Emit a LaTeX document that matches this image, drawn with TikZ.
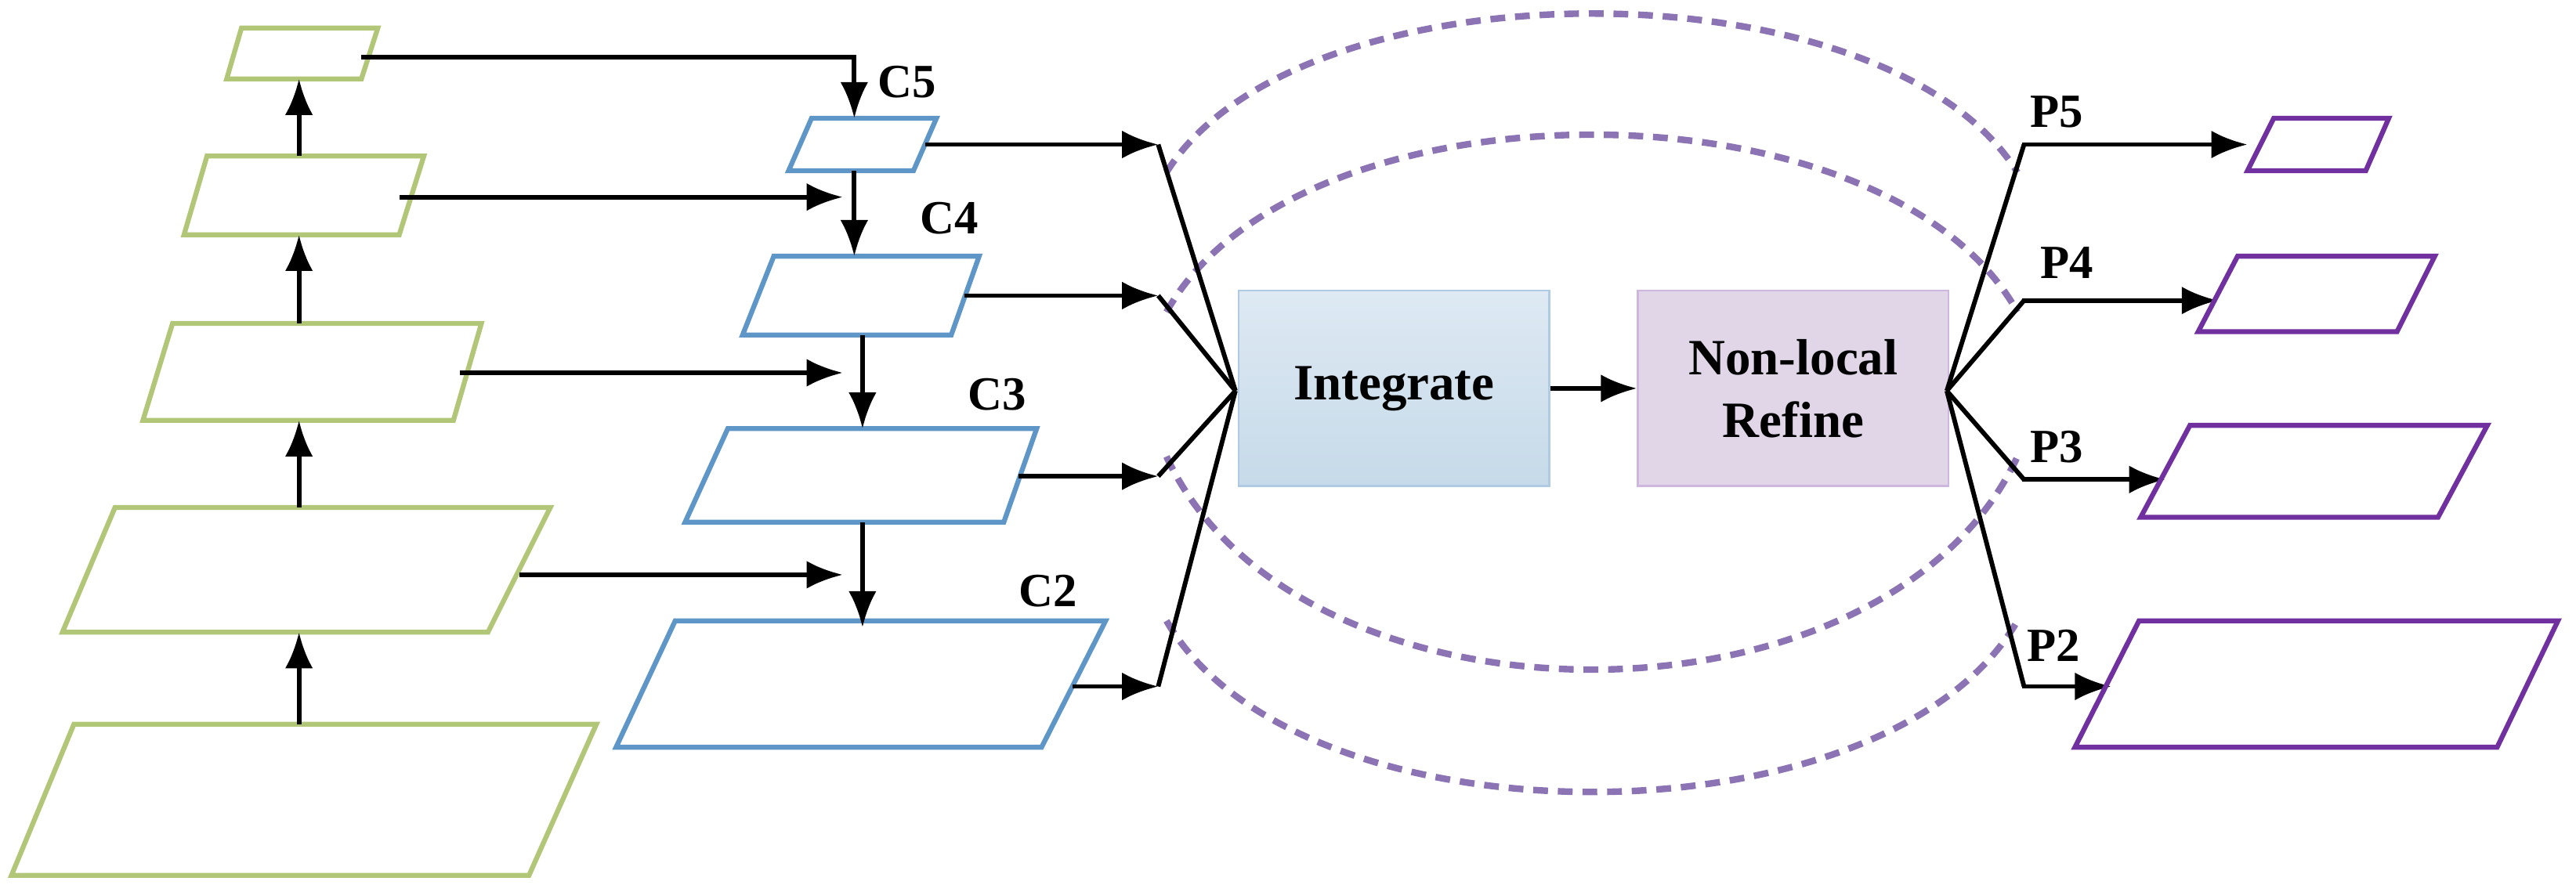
\documentclass[tikz,border=0pt]{standalone}
\usepackage{fontspec}
\setmainfont{Liberation Serif}
\usetikzlibrary{arrows.meta}
\definecolor{gr}{RGB}{178,198,120}
\definecolor{bl}{RGB}{95,150,200}
\definecolor{pu}{RGB}{112,48,160}
\definecolor{da}{RGB}{140,115,180}
\begin{document}
\begin{tikzpicture}[x=1pt,y=-1pt,
 ar/.style={line width=2.8pt,-{Latex[length=22pt,width=17pt]}},
 ln/.style={line width=2.8pt},
 gs/.style={draw=gr,line width=3pt},
 bs/.style={draw=bl,line width=3pt},
 ps/.style={draw=pu,line width=3pt},
 dsh/.style={draw=da,line width=4pt,dash pattern=on 9pt off 6pt},
 lab/.style={font=\bfseries\fontsize{29}{31}\selectfont,inner sep=0pt},
 box/.style={minimum width=189pt,minimum height=119pt,line width=1.2pt,align=center,font=\bfseries\fontsize{31}{36}\selectfont}]
\useasboundingbox (0,0) rectangle (1568,543);
% green column
\draw[gs] (147,17)--(230,17)--(220,48)--(138,48)--cycle;
\draw[gs] (126,95)--(258,95)--(243,143)--(112,143)--cycle;
\draw[gs] (105,197)--(293,197)--(276,256)--(87,256)--cycle;
\draw[gs] (70,309)--(335,309)--(297,385)--(38,385)--cycle;
\draw[gs] (45,441)--(363,441)--(322,533)--(7,533)--cycle;
\foreach \a/\b in {441/385,309/256,197/143,95/48}
  \draw[ar] (182,\a)--(182,\b);
% blue column
\draw[bs] (494,72)--(570,72)--(556,104)--(480,104)--cycle;
\draw[bs] (471,156)--(596,156)--(579,204)--(452,204)--cycle;
\draw[bs] (443,261)--(631,261)--(611,318)--(417,318)--cycle;
\draw[bs] (411,378)--(673,378)--(634,455)--(375,455)--cycle;
\draw[ar] (220,35)--(520,35)--(520,72);
\draw[ar] (520,104)--(520,156);
\draw[ar] (525,204)--(525,261);
\draw[ar] (525,318)--(525,382);
\draw[ar] (243,120)--(513,120);
\draw[ar] (280,227)--(513,227);
\draw[ar] (316,350)--(513,350);
\node[lab] at (552,50) {C5};
\node[lab] at (578,133) {C4};
\node[lab] at (607,240) {C3};
\node[lab] at (638,360) {C2};
% dashed curves
\draw[dsh] (710,105) .. controls (790,-24) and (1148,-24) .. (1228,105);
\draw[dsh] (710,190) .. controls (790,46) and (1148,46) .. (1228,190);
\draw[dsh] (710,278) .. controls (790,451) and (1148,451) .. (1228,278);
\draw[dsh] (710,378) .. controls (790,517) and (1148,517) .. (1228,378);
% boxes
\node[box,draw=bl!50,top color={rgb,255:red,222;green,233;blue,243},bottom color={rgb,255:red,198;green,218;blue,233}] (int) at (848.5,236.5) {Integrate};
\node[box,draw=pu!35,fill={rgb,255:red,224;green,214;blue,232}] (nl) at (1091.5,236.5) {Non-local\\[2pt]Refine};
\draw[ar] (int.east)--(nl.west);
\coordinate (m) at (752,238);
\coordinate (n) at (1185,238);
\foreach \y/\x in {88/563,180/587,290/620,418/653}{
  \draw[ar] (\x,\y)--(705,\y);
  \draw[ln] (705,\y)--(m);}
\foreach \y/\x in {88/1368,183/1350,292/1318,418/1285}{
  \draw[ln] (n)--(1232,\y);
  \draw[ar] (1231,\y)--(\x,\y);}
\draw[ps] (1384,72)--(1454,72)--(1440,104)--(1368,104)--cycle;
\draw[ps] (1362,156)--(1482,156)--(1459,202)--(1338,202)--cycle;
\draw[ps] (1333,259)--(1514,259)--(1484,315)--(1303,315)--cycle;
\draw[ps] (1302,378)--(1557,378)--(1520,455)--(1263,455)--cycle;
\node[lab] at (1252,68) {P5};
\node[lab] at (1258,160) {P4};
\node[lab] at (1252,272) {P3};
\node[lab] at (1250,393) {P2};
\end{tikzpicture}
\end{document}
